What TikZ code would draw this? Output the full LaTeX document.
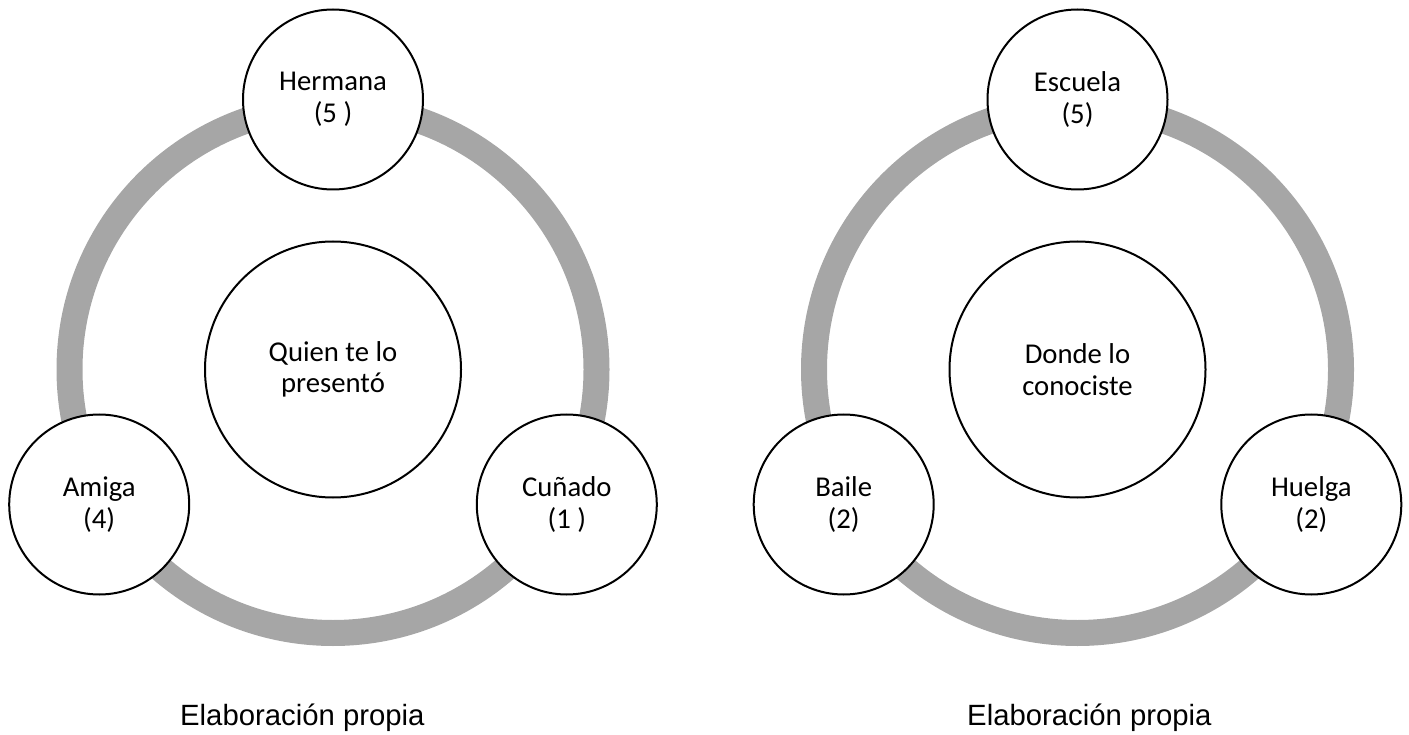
\documentclass[tikz,border=0pt]{standalone}
\usepackage{fontspec}
\setmainfont{Carlito}
\newfontfamily\captionfont{Liberation Sans}
\definecolor{ringgray}{RGB}{166,166,166}
\begin{document}
\begin{tikzpicture}[x=1pt,y=-1pt,
  ring/.style={draw=ringgray, line width=26pt},
  bubble/.style={circle, draw=black, line width=2pt, fill=white,
    minimum size=180pt, inner sep=0pt, align=center,
    font=\fontsize{28.7}{31.5}\selectfont},
  hub/.style={bubble, minimum size=256pt},
  caption/.style={inner sep=0pt, anchor=base west,
    font=\captionfont\fontsize{29.3}{34}\selectfont}
]
\useasboundingbox (0,0) rectangle (1409,735);

% left cycle: who introduced him
\coordinate (cL) at (333,369.5);
\draw[ring] (cL) circle[radius=263.5];
\node[hub]    (quien)   at (cL)         {Quien te lo\\presentó};
\node[bubble] (hermana) at (333,99.5)   {Hermana\\(5 )};
\node[bubble] (amiga)   at (99.2,504.5) {Amiga\\(4)};
\node[bubble] (cunado)  at (566.8,504.5){Cuñado\\(1 )};
\node[caption] (capL) at (180,725) {Elaboración propia};

% right cycle: where you met him
\coordinate (cR) at (1077.5,369.5);
\draw[ring] (cR) circle[radius=263.5];
\node[hub]    (donde)   at (cR)           {Donde lo\\conociste};
\node[bubble] (escuela) at (1077.5,99.5)  {Escuela\\(5)};
\node[bubble] (baile)   at (843.7,504.5)  {Baile\\(2)};
\node[bubble] (huelga)  at (1311.3,504.5) {Huelga\\(2)};
\node[caption] (capR) at (967,725) {Elaboración propia};
\end{tikzpicture}
\end{document}
